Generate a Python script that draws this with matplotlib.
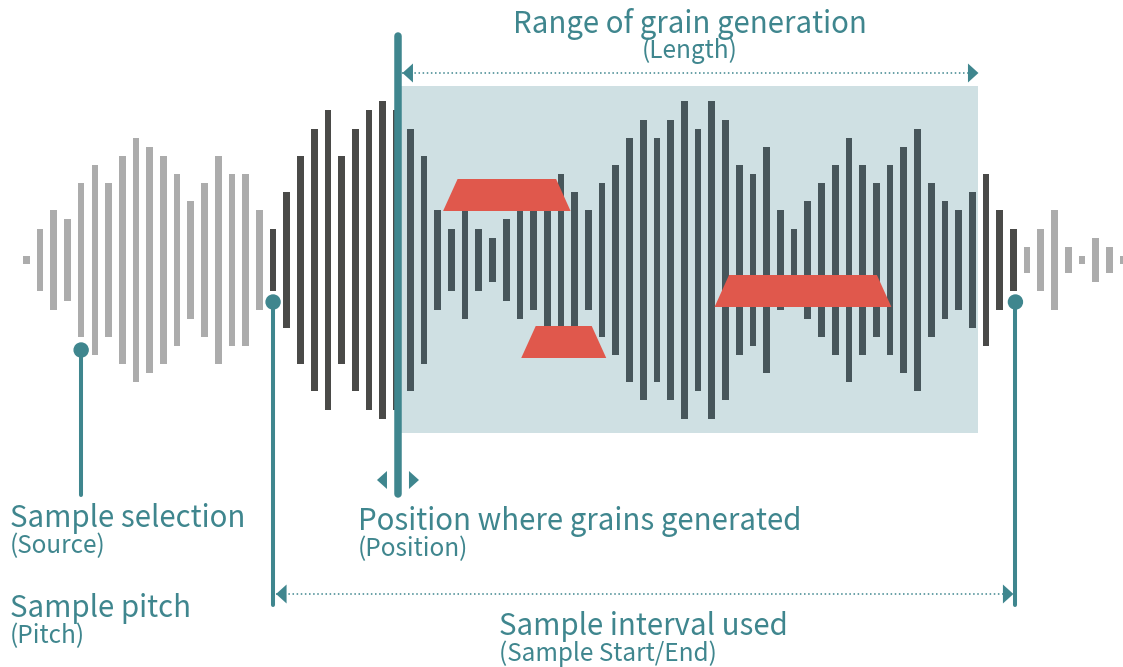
import numpy as np
import matplotlib
matplotlib.use("Agg")
import matplotlib.pyplot as plt
from matplotlib.patches import Polygon, Rectangle, Circle

plt.rcParams['font.family'] = ['Noto Sans CJK JP', 'DejaVu Sans']

# peak amplitude of each sample column (half height, px at full size)
amplitude = [4, 31, 50, 41, 77, 95, 77, 104, 122, 113, 104, 86, 59, 77, 104, 86, 86, 50,
             31, 68, 104, 131, 150, 104, 131, 150, 159, 150,
             131, 104, 50, 31, 59, 31, 22, 41, 59, 50, 77, 86,
             68, 50, 77, 95, 122, 140, 122, 140, 159, 131,
             159, 140, 95, 86, 113, 50, 31, 59, 77, 95,
             122, 95, 77, 95, 113, 131, 77, 59, 50, 68,
             86, 50, 31, 13, 31, 50, 13, 4, 22, 13, 4]

# sample indices of the controls
source_pick = 4
sample_start = 18
sample_end = 72
position = 27
length_end = 69

# grains: (first sample, last sample, vertical centre)
grains = [(30.4, 39.7, 195), (36.1, 42.3, 342), (50.2, 63.1, 291)]

labels = {
    "length": ("Range of grain generation", "(Length)"),
    "source": ("Sample selection", "(Source)"),
    "pitch": ("Sample pitch", "(Pitch)"),
    "position": ("Position where grains generated", "(Position)"),
    "interval": ("Sample interval used", "(Sample Start/End)"),
}

TEAL = "#3f868e"
GREY = "#acacac"
DARK = "#4a4a48"
SLATE = "#47565b"
BOX = "#cfe0e3"
RED = "#e0584c"

X0, DX, YC = 26.3, 13.71, 260


def px(i):
    return X0 + DX * np.asarray(i, dtype=float)


fig = plt.figure(figsize=(11.23, 6.67), dpi=100)
ax = fig.add_axes([0, 0, 1, 1])
ax.set_xlim(0, 1123)
ax.set_ylim(667, 0)
ax.axis("off")

amp = np.array(amplitude, dtype=float)
idx = np.arange(len(amp))
colors = []
for i in idx:
    if i < sample_start or i > sample_end:
        colors.append(GREY)
    elif position < i <= length_end:
        colors.append(SLATE)
    else:
        colors.append(DARK)
ax.bar(px(idx), 2 * amp, bottom=YC - amp, width=6.7, color=colors, zorder=3)

# grain generation range box
box_l = px(position) + 4
box_r = px(length_end) + DX * 0.45
ax.add_patch(Rectangle((box_l, 86), box_r - box_l, 433 - 86, color=BOX, zorder=1, lw=0))

# grains
for g0, g1, gy in grains:
    xl, xr = px(g0), px(g1)
    ax.add_patch(Polygon([(xl, gy + 16), (xl + 14.5, gy - 16), (xr - 14.5, gy - 16), (xr, gy + 16)],
                         closed=True, color=RED, lw=0, zorder=4))


def tri(x_tip, y, direction, w=10.5, h=9.5):
    ax.add_patch(Polygon([(x_tip, y), (x_tip - direction * w, y - h), (x_tip - direction * w, y + h)],
                         closed=True, color=TEAL, lw=0, zorder=5))


def dotted(x1, x2, y):
    ax.plot([x1, x2], [y, y], color=TEAL, lw=1.1, ls=(0, (1, 1.7)), zorder=5)
    tri(x1, y, -1)
    tri(x2, y, 1)


# position line and its arrows
xp = px(position) + 1.5
ax.plot([xp, xp], [36, 494], color=TEAL, lw=5.4, solid_capstyle="round", zorder=6)
tri(xp - 21, 480, -1, w=10, h=9)
tri(xp + 21, 480, 1, w=10, h=9)

# length range
dotted(xp + 4.5, box_r, 73)

# pins
for i, cy, bottom in [(source_pick, 350, 495), (sample_start, 302, 605), (sample_end, 302, 605)]:
    x = px(i) + (2 if i == sample_end else 0)
    ax.plot([x, x], [cy, bottom], color=TEAL, lw=2.9, solid_capstyle="round", zorder=6)
    ax.add_patch(Circle((x, cy), 7, color=TEAL, zorder=7))

dotted(px(sample_start) + 3, px(sample_end) + 0, 594)


def label(key, x, y, ha="left", dy=26):
    main, sub = labels[key]
    ax.text(x, y, main, color=TEAL, fontsize=21.2, ha=ha, va="baseline")
    ax.text(x, y + dy, sub, color=TEAL, fontsize=17.5, ha=ha, va="baseline")


label("length", 690, 33, ha="center", dy=25)
label("source", 10, 527)
label("pitch", 10, 617)
label("position", 358, 530)
label("interval", 499, 635)

fig.savefig("out.png", dpi=100)
